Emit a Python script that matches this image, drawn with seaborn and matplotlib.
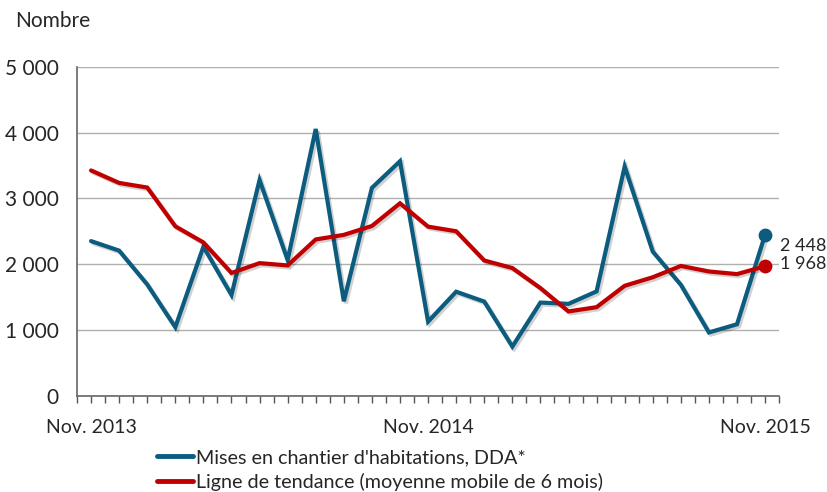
import numpy as np
import pandas as pd
import matplotlib
matplotlib.use("Agg")
import matplotlib.pyplot as plt
import matplotlib.patheffects as pe
import seaborn as sns

# Données (Nov. 2013 -> Nov. 2015)
mois = list(range(25))
mises_en_chantier = [2350, 2205, 1690, 1040, 2265, 1530, 3280, 2060, 4055, 1435,
                     3160, 3565, 1125, 1580, 1430, 745, 1415, 1395, 1585, 3485,
                     2190, 1685, 960, 1085, 2448]
tendance = [3425, 3235, 3165, 2575, 2330, 1865, 2015, 1980, 2375, 2445,
            2580, 2925, 2570, 2500, 2055, 1940, 1635, 1280, 1345, 1670,
            1800, 1972, 1888, 1848, 1968]
etiquettes_x = {0: "Nov. 2013", 12: "Nov. 2014", 24: "Nov. 2015"}
lib_serie = "Mises en chantier d'habitations, DDA*"
lib_tend = "Ligne de tendance (moyenne mobile de 6 mois)"

bleu = "#0B5C7E"
rouge = "#C00000"

df = pd.DataFrame({
    "mois": mois * 2,
    "valeur": mises_en_chantier + tendance,
    "serie": [lib_serie] * 25 + [lib_tend] * 25,
})

sns.set_theme(style="white")
plt.rcParams["font.family"] = ["Lato", "DejaVu Sans"]

fig = plt.figure(figsize=(8.28, 4.92), dpi=100)
ax = fig.add_axes([0.093, 0.196, 0.848, 0.668])

ombre = [pe.SimpleLineShadow(offset=(1.5, -1.5), alpha=0.18, shadow_color="black"), pe.Normal()]
sns.lineplot(data=df, x="mois", y="valeur", hue="serie", palette=[bleu, rouge],
             linewidth=3, ax=ax, legend=False)
for ln in ax.lines:
    ln.set_path_effects(ombre)
    ln.set_solid_joinstyle("miter")

# points et valeurs finales
ax.scatter([mois[-1]], [mises_en_chantier[-1]], s=80, color=bleu, zorder=5)
ax.scatter([mois[-1]], [tendance[-1]], s=80, color=rouge, zorder=5)
ax.annotate("2 448", (mois[-1], mises_en_chantier[-1]), xytext=(10.5, -8),
            textcoords="offset points", va="center", fontsize=13)
ax.annotate("1 968", (mois[-1], tendance[-1]), xytext=(10.5, 1.5),
            textcoords="offset points", va="center", fontsize=13)

ax.set_xlim(-0.5, 24.5)
ax.set_ylim(0, 5000)
ax.set_yticks(range(0, 5001, 1000))
ax.set_yticklabels([f"{v:,}".replace(",", " ") for v in range(0, 5001, 1000)], fontsize=15)
pos = np.arange(-0.5, 24.51, 0.5)
ax.set_xticks(pos)
ax.set_xticklabels([etiquettes_x.get(p, "") if float(p).is_integer() else "" for p in pos],
                   fontsize=14)
ax.tick_params(axis="x", direction="out", length=5, width=1, color="#555555", bottom=True, pad=12)
ax.tick_params(axis="y", length=0, pad=13)
ax.set_xlabel("")
ax.set_ylabel("")

ax.yaxis.grid(True, color="#B0B0B0", linewidth=1)
ax.xaxis.grid(False)
for s in ["top", "right"]:
    ax.spines[s].set_visible(False)
for s in ["left", "bottom"]:
    ax.spines[s].set_color("#666666")
    ax.spines[s].set_linewidth(1.2)

fig.text(0.018, 0.958, "Nombre", fontsize=15, va="center")

handles = [plt.Line2D([], [], color=bleu, linewidth=3.5),
           plt.Line2D([], [], color=rouge, linewidth=3.5)]
fig.legend(handles, [lib_serie, lib_tend], loc="upper left",
           bbox_to_anchor=(0.19, 0.087), frameon=False, fontsize=14.2,
           handlelength=1.8, handletextpad=0.15, labelspacing=0.35,
           borderaxespad=0, borderpad=0)

fig.savefig("out.png", dpi=100)
